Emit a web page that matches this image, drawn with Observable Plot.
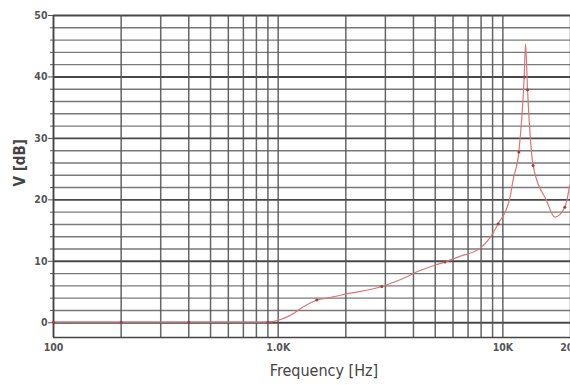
<!DOCTYPE html>
<html>
<head>
<meta charset="utf-8">
<script src="https://cdn.jsdelivr.net/npm/d3@7"></script>
<script src="https://cdn.jsdelivr.net/npm/@observablehq/plot@0.6"></script>
<style>
  html, body { margin: 0; padding: 0; background: #fff; overflow: hidden; }
  #chart { width: 570px; height: 385px; }
</style>
</head>
<body>
<div id="chart"></div>
<script>
// Frequency response curve (Hz, dB)
const freqs  = [100, 200, 400, 900, 1000, 1131, 1296, 1486, 1700, 2020, 2890, 3490, 4276, 5525, 6440, 7900, 8760, 9530, 10740, 11110, 11780, 12440, 12620, 12880, 13640, 15640, 17020, 18860, 19860];
const levels = [0.1, 0.1, 0.1, 0.1, 0.4, 1.2, 2.6, 3.7, 4.1, 4.7, 5.9, 7.0, 8.5, 9.9, 10.8, 12.1, 13.8, 16.1, 20.3, 23.3, 27.8, 40.0, 45.4, 37.9, 25.6, 19.9, 17.2, 18.8, 22.4];

// Measured points drawn as markers
const markerFreqs  = [100, 200, 400, 900, 1486, 2890, 5525, 9530, 11780, 12440, 12880, 13640, 18860];
const markerLevels = [0.1, 0.1, 0.1, 0.1, 3.7, 5.9, 9.9, 16.1, 27.8, 40.0, 37.9, 25.6, 18.8];

// Axes
const yMajorTicks = [0, 10, 20, 30, 40, 50];
const yMinorTicks = [2, 4, 6, 8, 12, 14, 16, 18, 22, 24, 26, 28, 32, 34, 36, 38, 42, 44, 46, 48];
const xGridValues = [100, 200, 300, 400, 500, 600, 700, 800, 900, 1000, 2000, 3000, 4000, 5000, 6000, 7000, 8000, 9000, 10000, 20000];
const xTickValues = [100, 1000, 10000, 20000];
const xTickLabels = ["100", "1.0K", "10K", "20K"];

const curve = freqs.map((f, i) => ({f, v: levels[i]}));
const markers = markerFreqs.map((f, i) => ({f, v: markerLevels[i]}));
const labelOf = new Map(xTickValues.map((v, i) => [v, xTickLabels[i]]));

const yMin = -2.4;
const font = "'DejaVu Sans Condensed', 'Liberation Sans', Arial, sans-serif";

const chart = Plot.plot({
  width: 570,
  height: 385,
  marginLeft: 53,
  marginRight: 0,
  marginTop: 15,
  marginBottom: 48,
  style: {
    fontFamily: font,
    fontSize: "10.5px",
    color: "#444",
    background: "#fff",
    overflow: "visible"
  },
  x: {type: "log", domain: [100, 20000]},
  y: {domain: [yMin, 50]},
  marks: [
    Plot.ruleY(yMinorTicks, {stroke: "#6a6a6a", strokeWidth: 1.4, strokeOpacity: 0.9}),
    Plot.ruleY(yMajorTicks, {stroke: "#484848", strokeWidth: 1.9}),
    Plot.ruleX(xGridValues, {stroke: "#555", strokeWidth: 1.5, strokeOpacity: 0.9}),
    Plot.ruleY([yMin], {stroke: "#444", strokeWidth: 1.4}),
    Plot.ruleX([100], {stroke: "#444", strokeWidth: 1.6}),
    Plot.axisY(yMinorTicks, {tickSize: 3, text: null, stroke: "#555", label: null}),
    Plot.axisY(yMajorTicks, {tickSize: 5, tickPadding: 1, fontWeight: "bold", fill: "#555", stroke: "#555", label: null}),
    Plot.axisX(xTickValues, {tickSize: 0, tickPadding: 6, tickFormat: d => labelOf.get(d), fontWeight: "bold", fill: "#555", label: null}),
    Plot.line(curve, {x: "f", y: "v", curve: "monotone-x", stroke: "#d77878", strokeWidth: 1.2}),
    Plot.dot(markers, {x: "f", y: "v", r: 1.5, fill: "#a83a3a"}),
    Plot.text(["Frequency [Hz]"], {frameAnchor: "bottom", dy: 38, fontSize: 16, fill: "#444", dx: 12, fontFamily: font}),
    Plot.text(["V [dB]"], {frameAnchor: "left", dx: -33, dy: 10, rotate: -90, fontSize: 15, fill: "#444", fontWeight: "bold", fontFamily: font})
  ]
});
document.getElementById("chart").appendChild(chart);
</script>
</body>
</html>
